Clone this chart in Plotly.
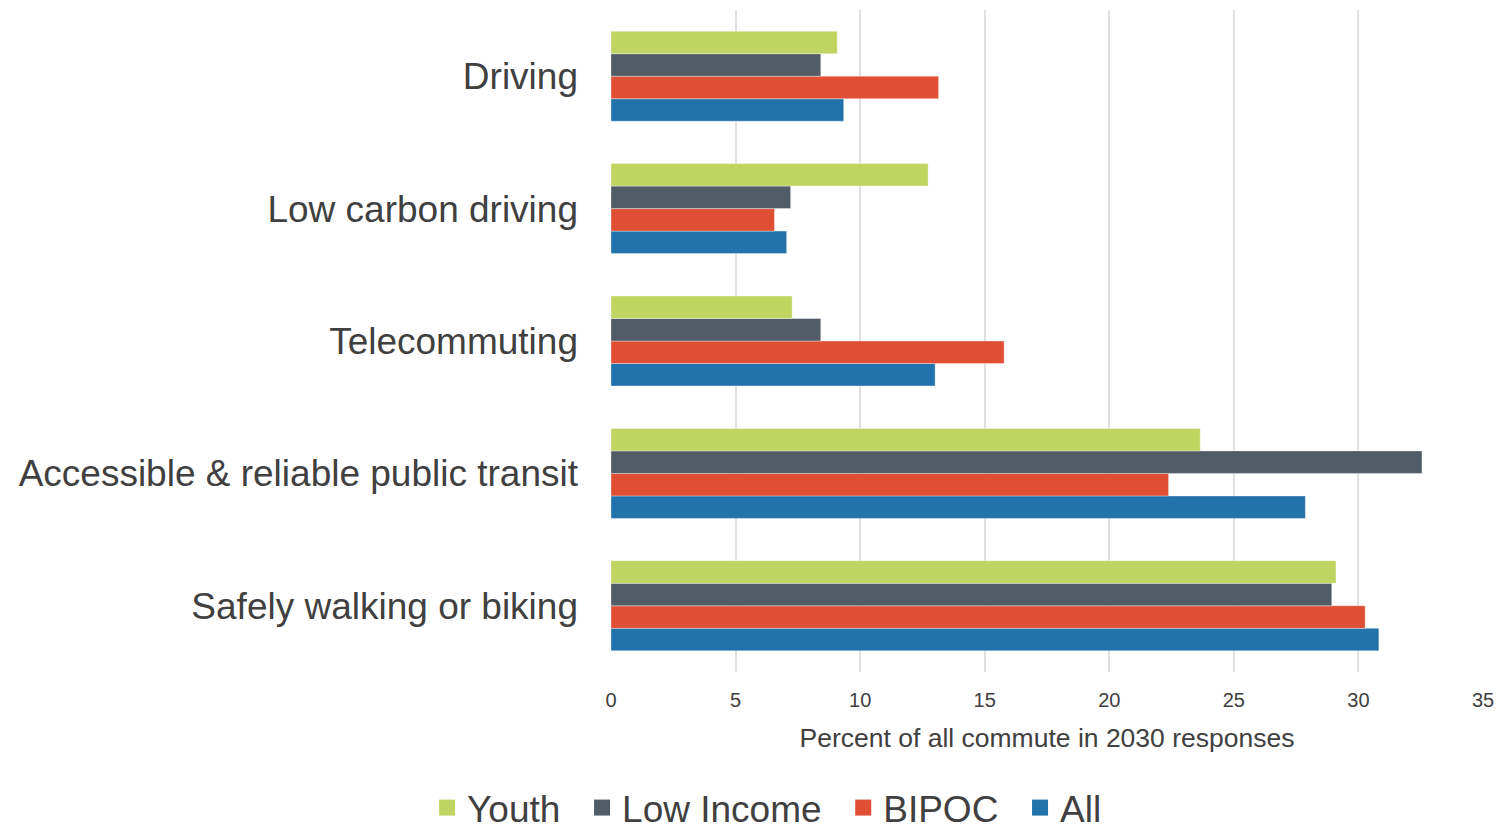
import plotly.graph_objects as go

# categories listed bottom to top
categories = [
    "Safely walking or biking",
    "Accessible & reliable public transit",
    "Telecommuting",
    "Low carbon driving",
    "Driving",
]

youth = [29.1, 23.65, 7.27, 12.73, 9.08]
low_income = [28.93, 32.55, 8.42, 7.21, 8.42]
bipoc = [30.27, 22.38, 15.78, 6.56, 13.15]
all_resp = [30.82, 27.87, 13.01, 7.05, 9.34]

tick_vals = [0, 5, 10, 15, 20, 25, 30, 35]

# first trace sits at the bottom of each group
series = [
    ("All", all_resp, "#2272AB"),
    ("BIPOC", bipoc, "#E04E33"),
    ("Low Income", low_income, "#525C66"),
    ("Youth", youth, "#C0D462"),
]

fig = go.Figure()
for name, vals, color in series:
    fig.add_bar(
        y=categories,
        x=vals,
        name=name,
        orientation="h",
        showlegend=False,
        marker=dict(color=color, line=dict(width=0.6, color="rgba(255,255,255,0.6)")),
    )

# legend entries with bigger square swatches, a bit of padding after each label
pad = "<span style='font-size:30px'>\u00a0\u00a0</span>"
for name, vals, color in series:
    fig.add_scatter(
        x=[None],
        y=[None],
        mode="markers",
        name=name if name == "All" else name + pad,
        marker=dict(symbol="square", size=18, color=color),
    )

fig.update_layout(
    width=1499,
    height=829,
    barmode="group",
    bargap=0.32,
    bargroupgap=0,
    plot_bgcolor="white",
    paper_bgcolor="white",
    margin={"l": 611, "r": 16, "t": 10, "b": 157},
    font=dict(family="Liberation Sans, Arial, sans-serif", color="#404040"),
    legend=dict(
        orientation="h",
        traceorder="reversed",
        x=0.179,
        xanchor="center",
        yref="container",
        y=0.0253,
        yanchor="middle",
        font=dict(size=37, color="#404040"),
        itemwidth=30,
    ),
)

fig.update_xaxes(
    range=[0, 35],
    tickvals=tick_vals,
    automargin=False,
    showgrid=True,
    gridcolor="#E0E0E0",
    gridwidth=1.5,
    zeroline=False,
    showline=False,
    ticks="",
    ticklabelstandoff=14,
    tickfont=dict(size=20, color="#404040"),
    title=dict(
        text="Percent of all commute in 2030 responses",
        font=dict(size=26.5, color="#404040"),
        standoff=18,
    ),
)

fig.update_yaxes(
    automargin=False,
    showgrid=False,
    showline=False,
    ticks="",
    ticklabelstandoff=32,
    tickfont=dict(size=37, color="#404040"),
)

# drop the default page margin and scrollbars so the figure fills the window exactly
fig.write_html(
    "out.html",
    config={"displayModeBar": False},
    post_script=(
        "document.body.style.margin='0';"
        "document.body.style.overflow='hidden';"
        "document.documentElement.style.overflow='hidden';"
    ),
)
